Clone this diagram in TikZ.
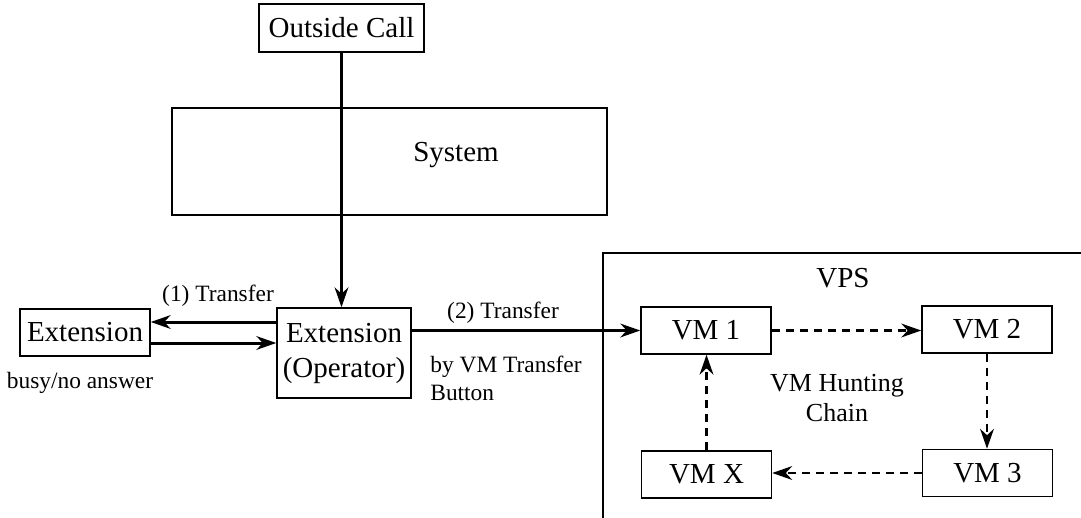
\documentclass[tikz,border=0pt]{standalone}
\usepackage{fontspec}
\setmainfont{LiberationSerif}[Extension=.ttf, UprightFont=*-Regular, BoldFont=*-Bold]
\usetikzlibrary{arrows.meta}
\tikzset{
  box/.style   ={draw, line width=0.8pt, inner sep=0pt, align=center,
                 font=\fontsize{14.5}{17.5}\selectfont},
  vmbox/.style ={box, minimum width=65pt, minimum height=23.5pt},
  conn/.style  ={line width=1.5pt, -{Stealth[length=10pt, width=7pt, line width=0pt]}},
  chain/.style ={conn, line width=1.2pt, dash pattern=on 4pt off 3pt},
  lbl/.style   ={inner sep=0pt, align=left, font=\fontsize{11.7}{14}\selectfont},
  title/.style ={inner sep=0pt, font=\fontsize{14.5}{17.5}\selectfont}
}

\begin{document}
\begin{tikzpicture}[x=0.5pt, y=-0.5pt]
            \useasboundingbox (0,0) rectangle (1081,518);
            % system and VPS frames
            \draw[line width=0.8pt] (172,108) rectangle (607,215);
            \node[title] (sys) at (456,155) {System};
            \draw[line width=0.8pt] (603,518) -- (603,253) -- (1081,253);
            \node[title] (vps) at (843,278) {VPS};

            % boxes
            \node[box, minimum width=82.5pt, minimum height=24pt] (call) at (341.5, 28.0) {Outside Call};
            \node[box, minimum width=65pt,   minimum height=23.5pt] (ext) at ( 85.0,332.5) {Extension};
            \node[box, minimum width=67pt,   minimum height=45pt] (op)    at (344.0,353.0) {Extension\\(Operator)};
            \node[vmbox] (vm1) at (706.0,330.5) {VM 1};
            \node[vmbox] (vm2) at (987.0,329.5) {VM 2};
            \node[vmbox] (vm3) at (987.5,473.0) {VM 3};
            \node[vmbox] (vmx) at (706.5,474.5) {VM X};

            % labels
            \node[lbl] (t1)   at (218,296) {(1) Transfer};
            \node[lbl] (busy) at ( 80,383) {busy/no answer};
            \node[lbl] (t2)   at (503,313) {(2) Transfer};
            \node[lbl, anchor=north west] (btn) at (430,356) {by VM Transfer\\Button};
            \node[inner sep=0pt, align=center, font=\fontsize{13}{15}\selectfont] (hunt) at (837,398) {VM Hunting\\Chain};

            % connectors
            \draw[conn] (call.south) -- (call.south |- op.north);
            \draw[conn, transform canvas={yshift=5.25pt}]  (op.west |- ext.east) -- (ext.east);
            \draw[conn, transform canvas={yshift=-5.25pt}] (ext.east) -- (op.west |- ext.east);
            \draw[conn] (op.east |- vm1.west) -- (vm1.west);
            \draw[chain] (vm1.east) -- (vm2.west |- vm1.east);
            \draw[chain] (vm2.south) -- (vm2.south |- vm3.north);
            \draw[chain] (vm3.west) -- (vmx.east |- vm3.west);
            \draw[chain] (vmx.north) -- (vmx.north |- vm1.south);
        \end{tikzpicture}
\end{document}
